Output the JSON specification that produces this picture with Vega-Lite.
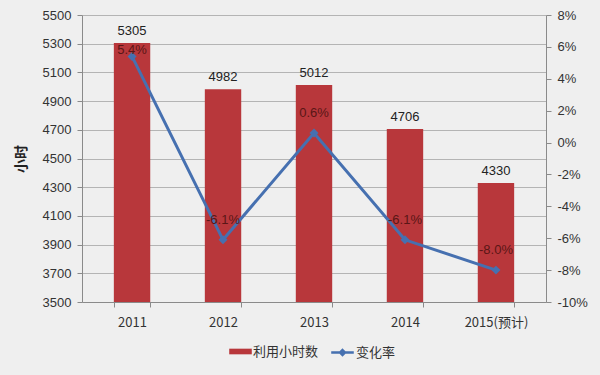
{
  "$schema": "https://vega.github.io/schema/vega-lite/v6.json",
  "width": 464,
  "height": 287,
  "autosize": "none",
  "padding": {"left": 82, "top": 15, "right": 54, "bottom": 73},
  "background": "#efefef",
  "config": {
    "view": {"stroke": null},
    "font": "Liberation Sans",
    "axis": {
      "labelFont": "Liberation Sans",
      "labelFontSize": 13,
      "labelColor": "#333333",
      "domainColor": "#8a8a8a",
      "tickColor": "#8a8a8a",
      "gridColor": "#b4b4b4",
      "tickSize": 5
    },
    "legend": {
      "labelFont": "Noto Sans CJK SC",
      "labelFontSize": 13,
      "labelColor": "#333333",
      "orient": "bottom",
      "direction": "horizontal",
      "offset": 14,
      "layout": {"bottom": {"anchor": "middle", "direction": "horizontal", "margin": 14}}
    }
  },
  "data": {
    "values": [
      {"year": "2011", "hours": 5305, "rate": 0.054},
      {"year": "2012", "hours": 4982, "rate": -0.061},
      {"year": "2013", "hours": 5012, "rate": 0.006},
      {"year": "2014", "hours": 4706, "rate": -0.061},
      {"year": "2015(预计)", "hours": 4330, "rate": -0.08}
    ]
  },
  "encoding": {
    "x": {
      "field": "year",
      "type": "nominal",
      "sort": null,
      "scale": {"paddingInner": 0.6, "paddingOuter": 0.35},
      "axis": {
        "title": null,
        "labelAngle": 0,
        "labelPadding": 9,
        "tickBand": "extent",
        "labelFont": "Noto Sans CJK SC",
        "labelFontSize": 13
      }
    }
  },
  "layer": [
    {
      "encoding": {
        "y": {
          "field": "hours",
          "type": "quantitative",
          "scale": {"domain": [3500, 5500], "nice": false, "zero": false},
          "axis": {
            "values": [3500, 3700, 3900, 4100, 4300, 4500, 4700, 4900, 5100, 5300, 5500],
            "format": "d",
            "title": "小时",
            "titleFont": "Noto Sans CJK SC",
            "titleFontSize": 14,
            "titleFontWeight": "bold",
            "titleColor": "#222222",
            "titlePadding": 14,
            "labelPadding": 6,
            "grid": true
          }
        }
      },
      "layer": [
        {
          "mark": {"type": "bar", "clip": true},
          "encoding": {
            "y2": {"datum": 3500},
            "fill": {
              "datum": "利用小时数",
              "scale": {"range": ["#B8373B"]},
              "legend": {
                "title": null,
                "symbolType": "M-1.4,-0.35H1.4V0.35H-1.4Z",
                "symbolSize": 260,
                "symbolStrokeWidth": 0
              }
            }
          }
        },
        {
          "mark": {"type": "text", "dy": -12, "fontSize": 13, "color": "#222222", "font": "Liberation Sans"},
          "encoding": {"text": {"field": "hours", "type": "quantitative", "format": "d"}}
        }
      ]
    },
    {
      "encoding": {
        "y": {
          "field": "rate",
          "type": "quantitative",
          "scale": {"domain": [-0.1, 0.08], "nice": false, "zero": false},
          "axis": {
            "orient": "right",
            "values": [-0.1, -0.08, -0.06, -0.04, -0.02, 0, 0.02, 0.04, 0.06, 0.08],
            "labelExpr": "replace(format(datum.value, '.0%'), '−', '-')",
            "title": null,
            "grid": false,
            "labelPadding": 6
          }
        }
      },
      "layer": [
        {
          "mark": {"type": "line", "strokeWidth": 3},
          "encoding": {
            "stroke": {
              "datum": "变化率",
              "scale": {"range": ["#4670B0"]},
              "legend": {
                "title": null,
                "symbolType": "M-1.4,0H1.4M0,-0.3L0.3,0L0,0.3L-0.3,0Z",
                "symbolSize": 260,
                "symbolStrokeWidth": 2.5,
                "symbolFillColor": "#4670B0"
              }
            }
          }
        },
        {
          "mark": {"type": "point", "shape": "diamond", "size": 80, "filled": true, "opacity": 1, "color": "#4670B0"}
        },
        {
          "mark": {
            "type": "text",
            "dy": {"expr": "datum.rate > 0.05 ? -6 : -20"},
            "fontSize": 13,
            "color": "#5a1616",
            "font": "Liberation Sans",
            "text": {"expr": "replace(format(datum.rate, '.1%'), '−', '-')"}
          }
        }
      ]
    }
  ],
  "resolve": {"scale": {"y": "independent"}}
}
